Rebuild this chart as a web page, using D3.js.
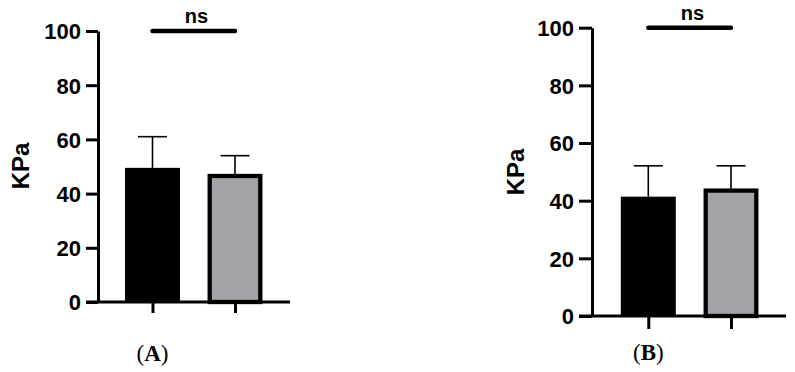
<!DOCTYPE html>
<html>
<head>
<meta charset="utf-8">
<script src="https://cdn.jsdelivr.net/npm/d3@7"></script>
<style>
  body { margin: 0; background: #fff; }
  text { font-family: "Liberation Sans", Arial, sans-serif; }
</style>
</head>
<body>
<script>
const groups = ["Group 1", "Group 2"];
const yTicks = [0, 20, 40, 60, 80, 100];

const meansA = [49.5, 46.5];
const sdA = [11.5, 7.5];
const meansB = [41.4, 43.5];
const sdB = [10.7, 8.6];

const panelLabels = ["A", "B"];
const sigText = "ns";
const yLabel = "KPa";

const fills = ["#000000", "#a3a2a7"];

const svg = d3.select("body").append("svg")
    .attr("width", 795)
    .attr("height", 372);

// one panel per data set, layout taken from the figure
function drawPanel(cfg) {
  const g = svg.append("g");

  const y = d3.scaleLinear()
      .domain([0, 100])
      .range([cfg.bottom, cfg.top]);

  const x = d3.scalePoint()
      .domain(groups)
      .range(cfg.centers);

  // error bars (drawn first, bars cover the lower part)
  g.selectAll(".err")
    .data(cfg.means)
    .enter().append("g")
    .each(function(d, i) {
      const e = d3.select(this);
      const cx = x(groups[i]);
      const top = y(d + cfg.sd[i]);
      e.append("line")
        .attr("x1", cx).attr("x2", cx)
        .attr("y1", y(d)).attr("y2", top)
        .attr("stroke", "#000").attr("stroke-width", 1.6);
      e.append("line")
        .attr("x1", cx - 14.5).attr("x2", cx + 14.5)
        .attr("y1", top).attr("y2", top)
        .attr("stroke", "#000").attr("stroke-width", 1.6);
    });

  // bars
  g.selectAll(".bar")
    .data(cfg.means)
    .enter().append("rect")
      .attr("x", (d, i) => x(groups[i]) - (i === 0 ? 27.5 : 25.3))
      .attr("width", (d, i) => i === 0 ? 55 : 50.6)
      .attr("y", d => y(d))
      .attr("height", d => cfg.bottom - y(d))
      .attr("fill", (d, i) => fills[i])
      .attr("stroke", "#000")
      .attr("stroke-width", (d, i) => i === 0 ? 0 : 4.3);

  // y axis
  const yAxis = g.append("g")
      .attr("transform", `translate(${cfg.axisX},0)`)
      .call(d3.axisLeft(y)
        .tickValues(yTicks)
        .tickSize(cfg.tick)
        .tickSizeOuter(0)
        .tickPadding(5));
  yAxis.select(".domain").attr("stroke-width", 3);
  yAxis.selectAll(".tick line").attr("stroke-width", 3);
  yAxis.selectAll(".tick text")
      .attr("font-size", 22)
      .attr("font-weight", "bold")
      .attr("fill", "#000")
      .attr("dy", "0.36em");

  // x axis
  const xAxis = g.append("g")
      .attr("transform", `translate(0,${cfg.bottom})`)
      .call(d3.axisBottom(x).tickSize(cfg.xtick).tickFormat(""));
  xAxis.select(".domain").remove();
  xAxis.selectAll(".tick line").attr("stroke-width", 3);
  g.append("line")
    .attr("x1", cfg.axisX - cfg.tick).attr("x2", cfg.xEnd)
    .attr("y1", cfg.bottom).attr("y2", cfg.bottom)
    .attr("stroke", "#000").attr("stroke-width", 3);

  // significance bar
  g.append("line")
    .attr("x1", x(groups[0])).attr("x2", x(groups[1]))
    .attr("y1", y(100)).attr("y2", y(100))
    .attr("stroke", "#000").attr("stroke-width", 4.5)
    .attr("stroke-linecap", "round");
  g.append("text")
    .attr("x", cfg.nsX)
    .attr("y", y(100) - 8)
    .attr("text-anchor", "middle")
    .attr("font-size", 20)
    .attr("font-weight", "bold")
    .text(sigText);

  // y label
  g.append("text")
    .attr("transform", `translate(${cfg.labelX},${cfg.labelY}) rotate(-90)`)
    .attr("text-anchor", "middle")
    .attr("font-size", 24)
    .attr("font-weight", "bold")
    .text(yLabel);

  // panel letter
  const pl = g.append("text")
    .attr("x", cfg.centers[0])
    .attr("y", cfg.letterY)
    .attr("text-anchor", "middle")
    .style("font-family", "Liberation Serif, Times New Roman, serif")
    .attr("font-size", 23);
  pl.append("tspan").text("(");
  pl.append("tspan").attr("font-weight", "bold").text(cfg.letter);
  pl.append("tspan").text(")");
}

drawPanel({
  means: meansA, sd: sdA, letter: panelLabels[0],
  top: 31, bottom: 302, axisX: 98, centers: [152.5, 235],
  tick: 12, xtick: 11, xEnd: 290, nsX: 196.5,
  labelX: 29, labelY: 166, letterY: 361
});

drawPanel({
  means: meansB, sd: sdB, letter: panelLabels[1],
  top: 27.7, bottom: 316, axisX: 592, centers: [648.3, 731],
  tick: 13, xtick: 13, xEnd: 786, nsX: 692.5,
  labelX: 524, labelY: 172, letterY: 360
});
</script>
</body>
</html>
